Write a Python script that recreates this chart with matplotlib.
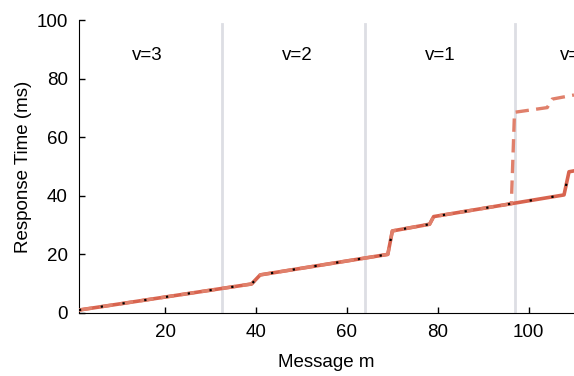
import matplotlib
matplotlib.use("Agg")
import matplotlib.pyplot as plt

plt.rcParams['font.family'] = ['Liberation Sans', 'DejaVu Sans']

# main response time curve
m_main = [1, 39, 40.9, 69, 70, 78.2, 79.1, 107.8, 108.9, 110]
rt_main = [1, 9.9, 13.0, 20.0, 28.0, 30.3, 32.9, 40.3, 48.2, 48.5]

# alternative curve, diverges at the last boundary
m_alt = [1, 39, 40.9, 69, 70, 78.2, 79.1, 96.2, 96.9, 104.1, 105.2, 110]
rt_alt = [1, 9.9, 13.0, 20.0, 28.0, 30.3, 32.9, 37.3, 68.5, 70.1, 73.0, 74.4]

# view-change boundaries and labels
bounds = [32.5, 64, 97]
v_labels = ["v=3", "v=2", "v=1", "v=0"]
v_pos = [16, 49, 80.5, 110.3]

fig = plt.figure(figsize=(5.74, 3.76), dpi=100)
ax = fig.add_axes([0.1376, 0.1676, 0.8624, 0.7792])

for b in bounds:
    ax.axvline(b, ymin=0, ymax=0.986, color='#dddee4', lw=2, zorder=1)

ax.plot(m_main, rt_main, color='#d8644f', lw=2.6, zorder=3)
ax.plot(m_alt, rt_alt, color='#e0806b', lw=2.4, ls=(0, (4, 2.2)), zorder=4)
ax.plot(m_main, rt_main, color='black', lw=1.6, ls=(0, (1, 8.9)), zorder=5)

for lab, x in zip(v_labels, v_pos):
    ax.text(x, 88, lab, ha='center', va='center', fontsize=13.5, clip_on=False)

ax.set_xlim(1, 110)
ax.set_ylim(0, 100)
ax.set_xticks([20, 40, 60, 80, 100])
ax.set_yticks([0, 20, 40, 60, 80, 100])
ax.tick_params(direction='in', length=4, labelsize=13.5, width=1, pad=8)
ax.spines['top'].set_visible(False)
ax.spines['right'].set_visible(False)
ax.set_xlabel('Message m', fontsize=13.5, labelpad=9)
ax.set_ylabel('Response Time (ms)', fontsize=13.5, labelpad=3)

fig.savefig('out.png', dpi=100)
